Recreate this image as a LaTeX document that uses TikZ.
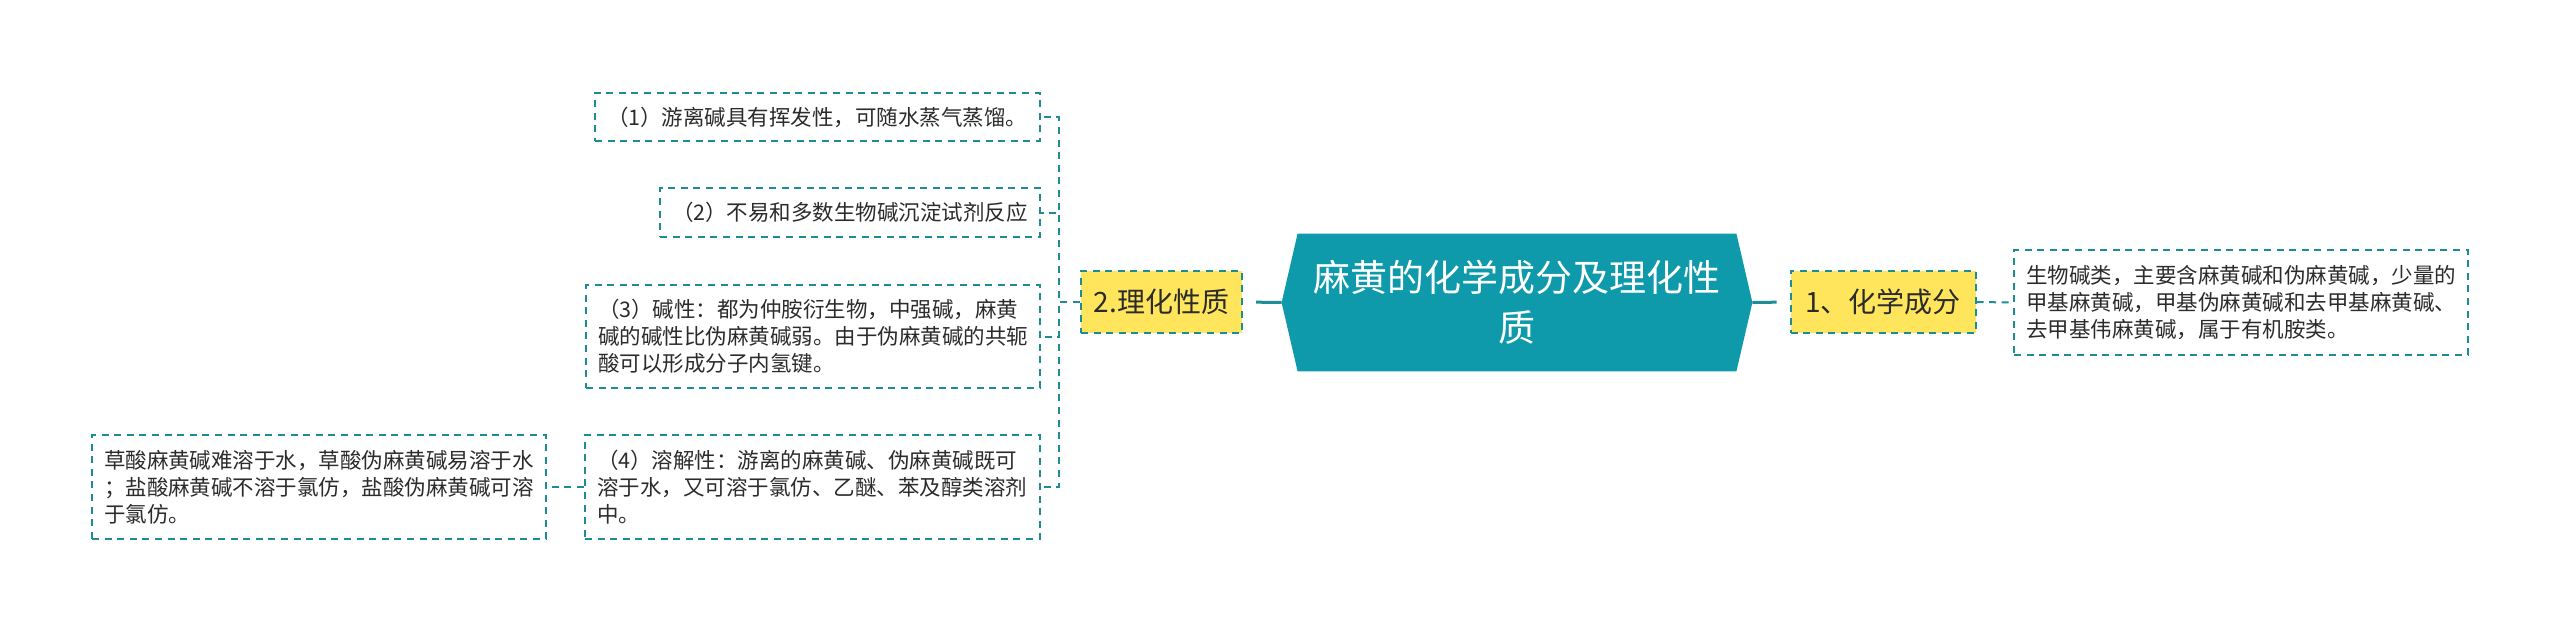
\documentclass[tikz,border=0pt]{standalone}
\usepackage{fontspec}
\newfontfamily\cjk{Noto Sans CJK SC}
\usetikzlibrary{backgrounds}
\definecolor{rootteal}{HTML}{0E9AAA}
\definecolor{lineteal}{HTML}{1E8C96}
\definecolor{secyellow}{HTML}{FFE55C}
\definecolor{txtgray}{HTML}{2B2B2B}

\begin{document}
\begin{tikzpicture}[x=0.5pt,y=-0.5pt,
  leaf/.style={draw=lineteal,line width=1pt,dash pattern=on 3.5pt off 2.8pt,inner xsep=6pt,inner ysep=0pt,align=left,text=txtgray,font=\cjk\fontsize{10.75pt}{13.5pt}\selectfont},
  sec/.style={leaf,fill=secyellow,inner xsep=0pt,align=center,font=\cjk\fontsize{14pt}{17pt}\selectfont},
  dlink/.style={lineteal,line width=1pt,dash pattern=on 3.5pt off 2.8pt},
  slink/.style={lineteal,line width=1.5pt,shorten >=6.5pt}]
\useasboundingbox (0,0) rectangle (2560,633);

% centre topic
\node(root)[minimum width=235pt,minimum height=68.5pt,inner sep=0pt,text=white,align=center,font=\cjk\fontsize{18.5pt}{25pt}\selectfont]at(1517,302.5){麻黄的化学成分及理化性\\质};
\begin{scope}[on background layer]
\fill[rootteal](root.west)--([xshift=8pt]root.north west)--([xshift=-8pt]root.north east)--(root.east)--([xshift=-8pt]root.south east)--([xshift=8pt]root.south west)--cycle;
\end{scope}

% first level
\node(sec2)[sec,minimum width=80.5pt,minimum height=31pt]at(1161.5,302){2.理化性质};
\node(sec1)[sec,minimum width=92.5pt,minimum height=31pt]at(1883,302){1、化学成分};

% right side
\node(r1)[leaf,text width=215pt,minimum height=52.5pt]at(2241,302.5){生物碱类，主要含麻黄碱和伪麻黄碱，少量的\\甲基麻黄碱，甲基伪麻黄碱和去甲基麻黄碱、\\去甲基伟麻黄碱，属于有机胺类。};

% left side
\node(b1)[leaf,text width=210.5pt,minimum height=24pt]at(817.5,117){（1）游离碱具有挥发性，可随水蒸气蒸馏。};
\node(b2)[leaf,text width=178pt,minimum height=24.5pt]at(850,212.5){（2）不易和多数生物碱沉淀试剂反应};
\node(b3)[leaf,text width=215pt,minimum height=51.5pt]at(813,336.5){（3）碱性：都为仲胺衍生物，中强碱，麻黄\\碱的碱性比伪麻黄碱弱。由于伪麻黄碱的共轭\\酸可以形成分子内氢键。};
\node(b4)[leaf,text width=215.5pt,minimum height=52pt]at(812.5,487){（4）溶解性：游离的麻黄碱、伪麻黄碱既可\\溶于水，又可溶于氯仿、乙醚、苯及醇类溶剂\\中。};
\node(b5)[leaf,text width=215pt,minimum height=52pt]at(319,487){草酸麻黄碱难溶于水，草酸伪麻黄碱易溶于水\\；盐酸麻黄碱不溶于氯仿，盐酸伪麻黄碱可溶\\于氯仿。};

% connectors
\draw[slink](root.west)--(sec2.east);
\draw[slink](root.east)--(sec1.west);
\draw[dlink](sec1.east)--(r1.west);
\foreach \b in {b1,b2,b3,b4}
  \draw[dlink](sec2.west)--++(-21,0)|-(\b.east);
\draw[dlink](b4.west)--(b5.east);

\end{tikzpicture}
\end{document}
